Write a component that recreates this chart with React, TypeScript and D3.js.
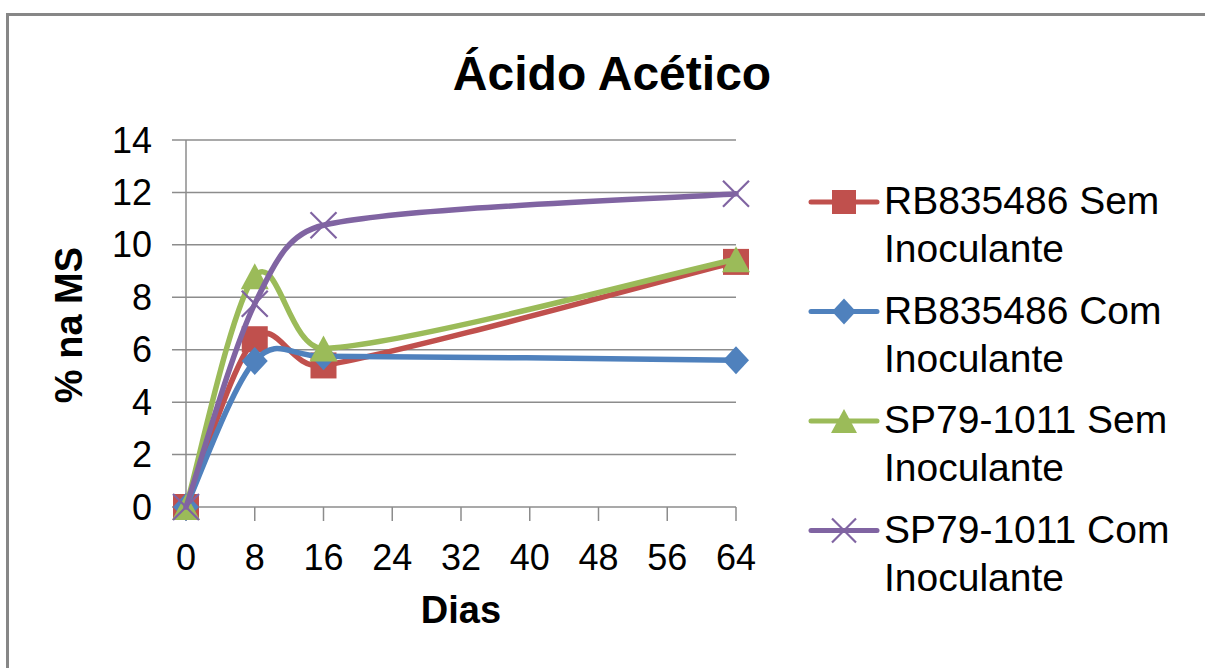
import React from "react";
import * as d3 from "d3";

// Dias de fermentação e teores de ácido acético (% na MS)
const dias = [0, 8, 16, 64];
const xTicks = [0, 8, 16, 24, 32, 40, 48, 56, 64];
const yTicks = [0, 2, 4, 6, 8, 10, 12, 14];

const rbSem = [0, 6.4, 5.4, 9.35];
const rbCom = [0, 5.57, 5.75, 5.6];
const spSem = [0, 8.8, 6.05, 9.45];
const spCom = [0, 7.75, 10.75, 11.95];

const seriesNames = [
  ["RB835486 Sem", "Inoculante"],
  ["RB835486 Com", "Inoculante"],
  ["SP79-1011 Sem", "Inoculante"],
  ["SP79-1011 Com", "Inoculante"],
];
const seriesColors = ["#C0504D", "#4F81BD", "#9BBB59", "#8064A2"];
const seriesMarkers = ["square", "diamond", "triangle", "x"];
const seriesValues = [rbSem, rbCom, spSem, spCom];

const W = 1205;
const H = 668;
const plot = { left: 186, right: 736, top: 140, bottom: 507 };
const FONT = "'Liberation Sans', Arial, sans-serif";

// Smoothed line: Catmull-Rom style Bézier handles (1/6 of the neighbour span),
// with each handle's horizontal reach kept within half of its segment.
function smoothPath(pts: [number, number][]): string {
  const p = d3.path();
  p.moveTo(pts[0][0], pts[0][1]);
  for (let i = 0; i < pts.length - 1; i++) {
    const p0 = pts[i - 1] ?? pts[i];
    const p1 = pts[i];
    const p2 = pts[i + 1];
    const p3 = pts[i + 2] ?? pts[i + 1];
    let h1 = [(p2[0] - p0[0]) / 6, (p2[1] - p0[1]) / 6];
    let h2 = [(p3[0] - p1[0]) / 6, (p3[1] - p1[1]) / 6];
    const half = (p2[0] - p1[0]) / 2;
    if (h1[0] > half) h1 = [h1[0] * (half / h1[0]), h1[1] * (half / h1[0])];
    if (h2[0] > half) h2 = [h2[0] * (half / h2[0]), h2[1] * (half / h2[0])];
    p.bezierCurveTo(p1[0] + h1[0], p1[1] + h1[1], p2[0] - h2[0], p2[1] - h2[1], p2[0], p2[1]);
  }
  return p.toString();
}

function Marker({ kind, x, y, color, s = 13 }: { kind: string; x: number; y: number; color: string; s?: number }) {
  if (kind === "square") {
    return <rect x={x - s} y={y - s} width={2 * s} height={2 * s} fill={color} />;
  }
  if (kind === "diamond") {
    return <path d={`M${x},${y - s - 1}L${x + s},${y}L${x},${y + s + 1}L${x - s},${y}Z`} fill={color} />;
  }
  if (kind === "triangle") {
    return <path d={`M${x},${y - s}L${x + s + 1},${y + s}L${x - s - 1},${y + s}Z`} fill={color} />;
  }
  return (
    <path
      d={`M${x - s},${y - s}L${x + s},${y + s}M${x + s},${y - s}L${x - s},${y + s}`}
      stroke={color}
      strokeWidth={2.2}
      fill="none"
    />
  );
}

export default function App() {
  const x = d3.scaleLinear().domain([0, 64]).range([plot.left, plot.right]);
  const y = d3.scaleLinear().domain([0, 14]).range([plot.bottom, plot.top]);

  const gridColor = "#8c8c8c";

  return (
    <div style={{ position: "absolute", left: 0, top: 0 }}>
      <svg width={W} height={H} style={{ display: "block", background: "#fff" }}>
        {/* chart frame */}
        <path d={`M7.5,${H}V14.5H${W}`} fill="none" stroke="#878787" strokeWidth={3} />

        <text x={612} y={90} textAnchor="middle" fontFamily={FONT} fontWeight="bold" fontSize={48}>
          Ácido Acético
        </text>

        {/* horizontal gridlines with outer tick marks */}
        {yTicks.map((t) => (
          <line key={`g${t}`} x1={plot.left - 14} x2={plot.right} y1={y(t)} y2={y(t)} stroke={gridColor} strokeWidth={1.5} />
        ))}
        <line x1={plot.left} x2={plot.left} y1={plot.top} y2={plot.bottom} stroke={gridColor} strokeWidth={1.5} />
        {xTicks.map((t) => (
          <line key={`xt${t}`} x1={x(t)} x2={x(t)} y1={plot.bottom} y2={plot.bottom + 14} stroke={gridColor} strokeWidth={1.5} />
        ))}

        {yTicks.map((t) => (
          <text key={`yl${t}`} x={152} y={y(t)} dy="0.35em" textAnchor="end" fontFamily={FONT} fontSize={36}>
            {t}
          </text>
        ))}
        {xTicks.map((t) => (
          <text key={`xl${t}`} x={x(t)} y={570} textAnchor="middle" fontFamily={FONT} fontSize={36}>
            {t}
          </text>
        ))}

        <text x={461} y={623} textAnchor="middle" fontFamily={FONT} fontWeight="bold" fontSize={38}>
          Dias
        </text>
        <text
          transform="translate(82,325) rotate(-90)"
          textAnchor="middle"
          fontFamily={FONT}
          fontWeight="bold"
          fontSize={38}
        >
          % na MS
        </text>

        {/* series: smoothed lines with markers */}
        {seriesValues.map((vals, si) => (
          <g key={`s${si}`}>
            <path
              d={smoothPath(vals.map((v, i) => [x(dias[i]), y(v)] as [number, number]))}
              fill="none"
              stroke={seriesColors[si]}
              strokeWidth={5.5}
              strokeLinejoin="round"
              strokeLinecap="round"
            />
            {vals.map((v, i) => (
              <Marker key={i} kind={seriesMarkers[si]} x={x(dias[i])} y={y(v)} color={seriesColors[si]} />
            ))}
          </g>
        ))}

        {/* legend */}
        {seriesNames.map((name, si) => {
          const cy = 202 + si * 109.5;
          return (
            <g key={`l${si}`}>
              <line x1={811} x2={877} y1={cy} y2={cy} stroke={seriesColors[si]} strokeWidth={5} strokeLinecap="round" />
              <Marker kind={seriesMarkers[si]} x={844} y={cy} color={seriesColors[si]} s={12} />
              <text x={884} y={cy + 12} fontFamily={FONT} fontSize={39}>
                {name[0]}
              </text>
              <text x={884} y={cy + 60} fontFamily={FONT} fontSize={39}>
                {name[1]}
              </text>
            </g>
          );
        })}
      </svg>
    </div>
  );
}
